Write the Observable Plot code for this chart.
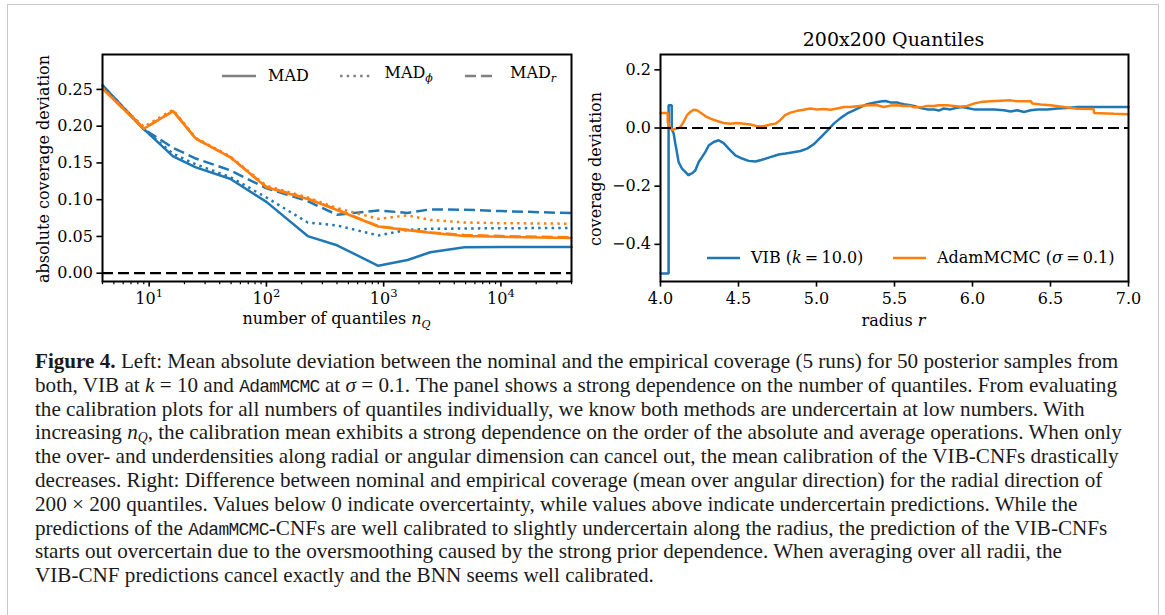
<!DOCTYPE html>
<html><head><meta charset="utf-8">
<script src="https://cdn.jsdelivr.net/npm/d3@7"></script>
<script src="https://cdn.jsdelivr.net/npm/@observablehq/plot@0.6"></script>
<style>
body{margin:0;background:#fff;}
#fig{position:relative;width:1165px;height:615px;overflow:hidden;background:#fff;}
.abs{position:absolute;white-space:nowrap;}
.ser{font-family:"DejaVu Serif",serif;font-size:16px;color:#000;line-height:20px;}
#cap{position:absolute;left:35px;top:350px;font-family:"Liberation Serif","Times New Roman",serif;color:#1a1a1a;font-size:19px;}
#cap div{white-space:nowrap;height:23.8px;line-height:23.8px;}
.tt{font-family:"Liberation Mono","DejaVu Sans Mono",monospace;font-size:0.85em;letter-spacing:-0.04em;}
</style></head><body>
<div id="fig">
  <div style="position:absolute;left:7px;top:4px;width:1152px;height:700px;border:1.5px solid #c8c8c8;box-sizing:border-box;"></div>
  <div id="left" class="abs" style="left:0;top:0;"></div>
  <div id="right" class="abs" style="left:580px;top:0;"></div>
  <div id="cap"></div>
</div>
<script>
// ---------- Left panel data ----------
const nQ = [4, 9, 16, 25, 49, 100, 225, 400, 900, 1600, 2500, 4900, 10000, 40000];
const vibMAD    = [0.2555, 0.196, 0.159, 0.144, 0.1285, 0.097, 0.0505, 0.038, 0.010, 0.018, 0.0285, 0.0352, 0.0355, 0.0355];
const vibMADphi = [0.2555, 0.196, 0.1625, 0.148, 0.131, 0.103, 0.069, 0.065, 0.0513, 0.059, 0.0603, 0.0608, 0.0612, 0.0615];
const vibMADr   = [0.2555, 0.196, 0.1705, 0.156, 0.140, 0.1155, 0.098, 0.0795, 0.0854, 0.082, 0.0868, 0.0864, 0.0845, 0.0817];
const adamMAD    = [0.251, 0.1965, 0.2205, 0.183, 0.158, 0.117, 0.101, 0.086, 0.0635, 0.0585, 0.055, 0.0505, 0.0495, 0.0478];
const adamMADphi = [0.252, 0.199, 0.2225, 0.184, 0.159, 0.119, 0.103, 0.0885, 0.074, 0.0786, 0.0725, 0.069, 0.068, 0.0673];
const adamMADr   = [0.251, 0.1965, 0.2205, 0.183, 0.158, 0.1175, 0.1015, 0.0865, 0.064, 0.059, 0.0555, 0.052, 0.0505, 0.049];
const leftYTicks = [0, 0.05, 0.10, 0.15, 0.20, 0.25];
const leftXMajor = [10, 100, 1000, 10000];
const leftXMinor = [4,5,6,7,8,9,20,30,40,50,60,70,80,90,200,300,400,500,600,700,800,900,2000,3000,4000,5000,6000,7000,8000,9000,20000,30000,40000];
const leftLegend = ["MAD", "MAD", "MAD"];
const leftLegendSub = ["", "ϕ", "r"];

// ---------- Right panel data (radius r, coverage deviation) ----------
const vibR = [4.000,4.052,4.052,4.072,4.072,4.084,4.095,4.105,4.116,4.138,4.159,4.180,4.190,4.202,4.223,4.245,4.266,4.287,4.309,4.341,4.373,4.405,4.437,4.480,4.523,4.565,4.608,4.651,4.704,4.758,4.801,4.833,4.897,4.940,4.982,5.025,5.068,5.111,5.154,5.197,5.239,5.282,5.325,5.367,5.410,5.442,5.474,5.517,5.539,5.560,5.603,5.624,5.667,5.710,5.752,5.784,5.816,5.859,5.891,5.934,5.966,6.009,6.073,6.137,6.201,6.244,6.287,6.330,6.373,6.416,6.480,6.544,6.608,6.672,7.000];
const vibDev = [-0.500,-0.500,0.078,0.078,-0.005,-0.018,-0.053,-0.083,-0.117,-0.140,-0.151,-0.163,-0.158,-0.156,-0.146,-0.117,-0.100,-0.083,-0.060,-0.048,-0.042,-0.052,-0.071,-0.094,-0.105,-0.113,-0.115,-0.109,-0.100,-0.091,-0.088,-0.085,-0.079,-0.071,-0.056,-0.033,-0.010,0.015,0.034,0.050,0.061,0.072,0.082,0.087,0.091,0.093,0.088,0.088,0.084,0.082,0.078,0.076,0.069,0.064,0.064,0.060,0.067,0.064,0.069,0.072,0.069,0.064,0.064,0.064,0.061,0.057,0.061,0.055,0.061,0.064,0.064,0.067,0.069,0.072,0.072];
const adamR = [4.000,4.046,4.046,4.063,4.074,4.106,4.127,4.148,4.170,4.191,4.212,4.234,4.255,4.287,4.320,4.362,4.405,4.448,4.491,4.533,4.576,4.619,4.662,4.704,4.737,4.767,4.799,4.833,4.876,4.918,4.961,5.004,5.047,5.089,5.132,5.175,5.218,5.261,5.303,5.346,5.389,5.431,5.474,5.517,5.560,5.603,5.624,5.667,5.710,5.752,5.784,5.838,5.880,5.923,5.966,6.009,6.052,6.116,6.180,6.244,6.287,6.373,6.384,6.437,6.501,6.586,6.672,6.777,6.779,6.907,7.000];
const adamDev = [0.052,0.052,0.021,0.001,-0.006,-0.002,0.003,0.021,0.044,0.055,0.063,0.061,0.053,0.041,0.032,0.024,0.017,0.015,0.017,0.015,0.012,0.006,0.006,0.012,0.015,0.027,0.044,0.053,0.059,0.063,0.067,0.064,0.065,0.063,0.067,0.072,0.072,0.075,0.077,0.078,0.078,0.072,0.077,0.078,0.076,0.076,0.071,0.071,0.076,0.076,0.078,0.078,0.076,0.073,0.076,0.084,0.089,0.092,0.094,0.095,0.092,0.092,0.084,0.081,0.078,0.072,0.066,0.065,0.052,0.049,0.047];
const rightXTicks = [4.0, 4.5, 5.0, 5.5, 6.0, 6.5, 7.0];
const rightYTicks = [-0.4, -0.2, 0.0, 0.2];
const rightLegend = ["VIB", "AdamMCMC"];

const BLUE = "#1f77b4", ORANGE = "#ff7f0e";
const LW = 2.5, DASH = "11,5", DOT = "2.5,4.2";
const axisStyle = {fontFamily: "DejaVu Serif", fontSize: "16px", color: "black", background: "transparent", overflow: "visible"};

const leftPlot = Plot.plot({
  width: 590, height: 340,
  marginLeft: 102, marginRight: 19, marginTop: 54, marginBottom: 59,
  style: axisStyle,
  x: {type: "log", domain: [4, 40000]},
  y: {domain: [-0.0113, 0.2975]},
  marks: [
    Plot.lineY(vibMAD, {x: nQ, stroke: BLUE, strokeWidth: LW}),
    Plot.lineY(vibMADphi, {x: nQ, stroke: BLUE, strokeWidth: LW, strokeDasharray: DOT, strokeLinecap: "butt"}),
    Plot.lineY(vibMADr, {x: nQ, stroke: BLUE, strokeWidth: LW, strokeDasharray: DASH, strokeLinecap: "butt"}),
    Plot.lineY(adamMAD, {x: nQ, stroke: ORANGE, strokeWidth: LW}),
    Plot.lineY(adamMADphi, {x: nQ, stroke: ORANGE, strokeWidth: LW, strokeDasharray: DOT, strokeLinecap: "butt"}),
    Plot.lineY(adamMADr, {x: nQ, stroke: ORANGE, strokeWidth: LW, strokeDasharray: DASH, strokeLinecap: "butt"}),
    Plot.ruleY([0], {stroke: "black", strokeWidth: 2.2, strokeDasharray: DASH}),
    Plot.frame({stroke: "black", strokeWidth: 2}),
    Plot.axisY({ticks: leftYTicks, tickFormat: d3.format(".2f"), tickSize: 5.6, tickPadding: 4, label: null, strokeWidth: 1.6, fontSize: 16}),
    Plot.axisX({ticks: leftXMajor, tickFormat: d => "10^" + Math.round(Math.log10(d)), tickSize: 5.6, tickPadding: 6, label: null, strokeWidth: 1.6, fontSize: 16}),
    Plot.axisX({ticks: leftXMinor, tickFormat: () => "", tickSize: 3.2, label: null, strokeWidth: 1.2})
  ]
});
document.getElementById("left").appendChild(leftPlot);
leftPlot.querySelectorAll("text").forEach(t => {
  const m = /^10\^(\d)$/.exec(t.textContent);
  if (m) t.innerHTML = `10<tspan font-size="11.5" dy="-7">${m[1]}</tspan>`;
});

const rightPlot = Plot.plot({
  width: 585, height: 340,
  marginLeft: 80, marginRight: 37, marginTop: 54, marginBottom: 59,
  style: axisStyle,
  x: {domain: [4, 7]},
  y: {domain: [-0.5277, 0.2527]},
  marks: [
    Plot.lineY(vibDev, {x: vibR, stroke: BLUE, strokeWidth: LW, strokeLinejoin: "miter"}),
    Plot.lineY(adamDev, {x: adamR, stroke: ORANGE, strokeWidth: LW, strokeLinejoin: "miter"}),
    Plot.ruleY([0], {stroke: "black", strokeWidth: 2.2, strokeDasharray: DASH}),
    Plot.frame({stroke: "black", strokeWidth: 2}),
    Plot.axisY({ticks: rightYTicks, tickFormat: d3.format(".1f"), tickSize: 5.6, tickPadding: 4, label: null, strokeWidth: 1.6, fontSize: 16}),
    Plot.axisX({ticks: rightXTicks, tickFormat: d3.format(".1f"), tickSize: 5.6, tickPadding: 6, label: null, strokeWidth: 1.6, fontSize: 16})
  ]
});
document.getElementById("right").appendChild(rightPlot);

// ---------- overlays: labels, title, legends ----------
const fig = document.getElementById("fig");
function addText(html, x, y, opts = {}) {
  const d = document.createElement("div");
  d.className = "abs ser";
  d.innerHTML = html;
  d.style.left = x + "px"; d.style.top = y + "px";
  if (opts.size) d.style.fontSize = opts.size + "px";
  d.style.transform = opts.rotate ? "translate(-50%,-50%) rotate(-90deg)" : (opts.center ? "translate(-50%,-50%)" : "translate(0,-50%)");
  fig.appendChild(d);
  return d;
}
function addLine(x1, x2, y, color, dash) {
  const ns = "http://www.w3.org/2000/svg";
  const s = document.createElementNS(ns, "svg");
  s.setAttribute("width", x2 - x1); s.setAttribute("height", 10);
  s.style.position = "absolute"; s.style.left = x1 + "px"; s.style.top = (y - 5) + "px";
  const l = document.createElementNS(ns, "line");
  l.setAttribute("x1", 0); l.setAttribute("x2", x2 - x1); l.setAttribute("y1", 5); l.setAttribute("y2", 5);
  l.setAttribute("stroke", color); l.setAttribute("stroke-width", LW);
  if (dash) l.setAttribute("stroke-dasharray", dash);
  s.appendChild(l);
  fig.appendChild(s);
}
const SUB = t => t ? `<sub style="font-size:11px;vertical-align:-4px"><i>${t}</i></sub>` : "";
addText("absolute coverage deviation", 43.5, 168.5, {rotate: true});
addText('number of quantiles <i>n</i>' + SUB("Q"), 336.5, 322, {center: true});
addText("coverage deviation", 595.7, 168.5, {rotate: true});
addText("radius <i>r</i>", 893.5, 321, {center: true});
addText("200x200 Quantiles", 893.5, 39.3, {center: true, size: 19});

const GRAY = "#808080";
addLine(222, 256, 76, GRAY, null);
addText(leftLegend[0] + SUB(leftLegendSub[0]), 268, 76);
addLine(340, 371, 76, GRAY, DOT);
addText(leftLegend[1] + SUB(leftLegendSub[1]), 384.5, 76);
addLine(465, 497, 76, GRAY, DASH);
addText(leftLegend[2] + SUB(leftLegendSub[2]), 510, 76);

addLine(707, 740, 258, BLUE, null);
addText(rightLegend[0] + ' (<i>k</i>&#8201;=&#8201;10.0)', 751, 258);
addLine(893, 926, 258, ORANGE, null);
addText(rightLegend[1] + ' (<i>σ</i>&#8201;=&#8201;0.1)', 937, 258);

// ---------- caption ----------
const capLines = [
  '<b>Figure 4.</b> Left: Mean absolute deviation between the nominal and the empirical coverage (5 runs) for 50 posterior samples from',
  'both, VIB at <i>k</i> = 10 and <span class="tt">AdamMCMC</span> at <i>σ</i> = 0.1. The panel shows a strong dependence on the number of quantiles. From evaluating',
  'the calibration plots for all numbers of quantiles individually, we know both methods are undercertain at low numbers. With',
  'increasing <i>n</i><sub style="font-size:0.65em;vertical-align:-0.2em"><i>Q</i></sub>, the calibration mean exhibits a strong dependence on the order of the absolute and average operations. When only',
  'the over- and underdensities along radial or angular dimension can cancel out, the mean calibration of the VIB-CNFs drastically',
  'decreases. Right: Difference between nominal and empirical coverage (mean over angular direction) for the radial direction of',
  '200 × 200 quantiles. Values below 0 indicate overcertainty, while values above indicate undercertain predictions. While the',
  'predictions of the <span class="tt">AdamMCMC</span>-CNFs are well calibrated to slightly undercertain along the radius, the prediction of the VIB-CNFs',
  'starts out overcertain due to the oversmoothing caused by the strong prior dependence. When averaging over all radii, the',
  'VIB-CNF predictions cancel exactly and the BNN seems well calibrated.'
];
const cap = document.getElementById("cap");
capLines.forEach(h => { const d = document.createElement("div"); d.innerHTML = '<span>' + h + '</span>'; cap.appendChild(d); });
function fitCaption() {
  const span = cap.querySelector("div span");
  cap.style.fontSize = "19px";
  const w = span.getBoundingClientRect().width;
  if (w > 0) cap.style.fontSize = (19 * 1084 / w).toFixed(2) + "px";
}
fitCaption();
if (document.fonts && document.fonts.ready) document.fonts.ready.then(fitCaption);
</script>
</body></html>
